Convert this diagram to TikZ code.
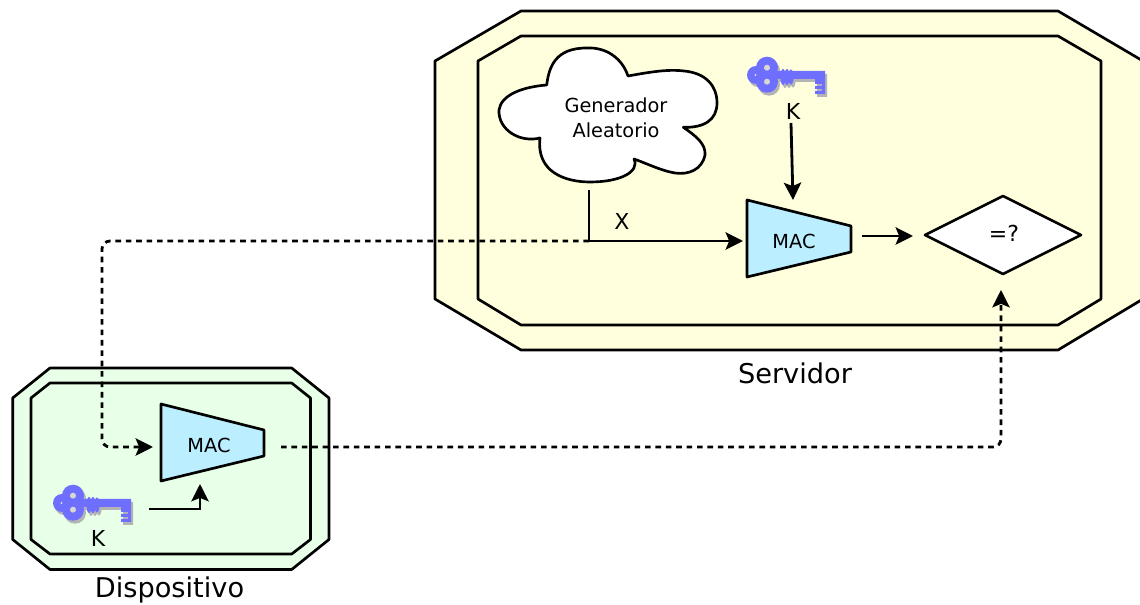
\documentclass[tikz,border=0pt]{standalone}
\usepackage{fontspec}
\setmainfont{DejaVu Sans}
\usetikzlibrary{arrows.meta}
\definecolor{srvfill}{HTML}{FFFFDD}
\definecolor{devfill}{HTML}{E8FFE8}
\definecolor{macfill}{HTML}{BBEEFF}
\definecolor{keyblue}{HTML}{6F6FFF}
\definecolor{keyshade}{HTML}{B4B4B4}
\definecolor{keyhole}{HTML}{D8D8D0}
\newcommand{\keyshape}{%
  (20,10.7) circle (11) (20,24.7) circle (11) (9,18) circle (9)
  (36,20) ellipse (2.6 and 8) (40,20) ellipse (2.6 and 8) (44,20) ellipse (2.6 and 7.5)
  (26,14) -- (78,14) -- (78,37) -- (68,37) -- (68,34) -- (75,34) -- (75,32) -- (68,32) -- (68,29) -- (75,29) -- (75,27) -- (68,27) -- (68,22) -- (26,22) -- cycle}
\tikzset{
  lw/.style={line width=2.1pt},
  outline/.style={line width=2pt,draw=black,line join=round},
  mac/.style={outline,fill=macfill},
  flow/.style={lw,-{Stealth[length=13pt,width=13pt,inset=2.6pt]}},
  plain/.style={lw},
  dotflow/.style={flow,dash pattern=on 4.2pt off 3.6pt,rounded corners=6pt},
  big/.style={font=\fontsize{20.4pt}{24pt}\selectfont,inner sep=0pt},
  mid/.style={font=\fontsize{14.5pt}{19pt}\selectfont,inner sep=0pt,align=center},
  lab/.style={font=\fontsize{16.5pt}{20pt}\selectfont,inner sep=0pt},
  keyicon/.pic={
    \fill[keyshade,shift={(2,3)}] \keyshape;
    \fill[keyblue] \keyshape;
    \fill[keyhole] (20,10.7) circle (3) (20,24.7) circle (3) (8.5,18) circle (1.2);
  }
}
\begin{document}
\begin{tikzpicture}[x=0.75pt,y=-0.75pt]
\clip (0,0) rectangle (1140,605);
% servidor
\draw[outline,fill=srvfill] (521,11) -- (1058,11) -- (1143,61) -- (1143,299) -- (1058,350) -- (521,350) -- (435,299) -- (435,61) -- cycle;
\draw[outline,fill=srvfill] (521,36) -- (1058,36) -- (1101,61) -- (1101,299) -- (1058,325) -- (521,325) -- (478,299) -- (478,61) -- cycle;
\node[big] (servidor) at (795,373.5) {Servidor};
% dispositivo
\draw[outline,fill=devfill] (50,368) -- (291.7,368) -- (329,398) -- (329,539.5) -- (291.7,569.5) -- (50,569.5) -- (12.7,539.5) -- (12.7,398) -- cycle;
\draw[outline,fill=devfill] (50,383) -- (291.7,383) -- (310.5,398) -- (310.5,539.5) -- (291.7,554) -- (50,554) -- (31,539.5) -- (31,398) -- cycle;
\node[big] (dispositivo) at (169.5,590) {Dispositivo};
% nube
\draw[outline,fill=white] (546.7,85)
  .. controls (549,66) and (556,48) .. (586.7,48)
  .. controls (606,47) and (622,58) .. (628,76)
  .. controls (650,72) and (668,69) .. (684,71)
  .. controls (706,73) and (717,86) .. (717,103)
  .. controls (717,120) and (704,128) .. (683.3,127.3)
  .. controls (696,136) and (706,144) .. (705,155)
  .. controls (702,170) and (688,175) .. (675,173)
  .. controls (662,171) and (648,164) .. (634,159)
  .. controls (640,172) and (620,182) .. (590,182)
  .. controls (565,182) and (536,172) .. (540,138)
  .. controls (520,143) and (498,130) .. (499,110)
  .. controls (501,95) and (522,87) .. (546.7,85) -- cycle;
\node[mid] (gen) at (616,118) {Generador\\Aleatorio};
% MAC servidor
\draw[mac] (747,200) -- (851,226) -- (851,252) -- (747,277) -- cycle;
\node[mid] (macs) at (794,241) {MAC};
% comparador
\draw[outline,fill=white] (1003,196) -- (1081,235) -- (1003,274) -- (925,235) -- cycle;
\node[lab] (cmp) at (1004,233) {=?};
% MAC dispositivo
\draw[mac] (161,404) -- (264,430) -- (264,456) -- (161,481) -- cycle;
\node[mid] (macd) at (209,445) {MAC};
% llaves
\pic at (747,57) {keyicon};
\pic at (53,485) {keyicon};
\node[lab] (ks) at (793,111) {K};
\node[lab] (kd) at (98,538) {K};
\node[lab] (x) at (622,221) {X};
% puntos de union
\coordinate (cloudout) at (589,190);
\coordinate (junction) at (589,241);
\coordinate (macsin) at (743,241);
\coordinate (macsout) at (862,236);
\coordinate (cmpin) at (913,236);
\coordinate (kstail) at (791,123);
\coordinate (macstop) at (793,200);
\coordinate (kdtail) at (149,509);
\coordinate (macdbot) at (200,484);
\coordinate (macdin) at (153,447);
\coordinate (macdout) at (281,447);
\coordinate (cmpbot) at (1001,290);
\draw[plain] (cloudout) -- (junction);
\draw[flow] (junction) -- (macsin);
\draw[flow] (macsout) -- (cmpin);
\draw[flow] (kstail) -- (macstop);
\draw[flow] (kdtail) -| (macdbot);
\draw[dotflow] (junction) -| (102,447) -- (macdin);
\draw[dotflow] (macdout) -| (cmpbot);
\end{tikzpicture}
\end{document}
